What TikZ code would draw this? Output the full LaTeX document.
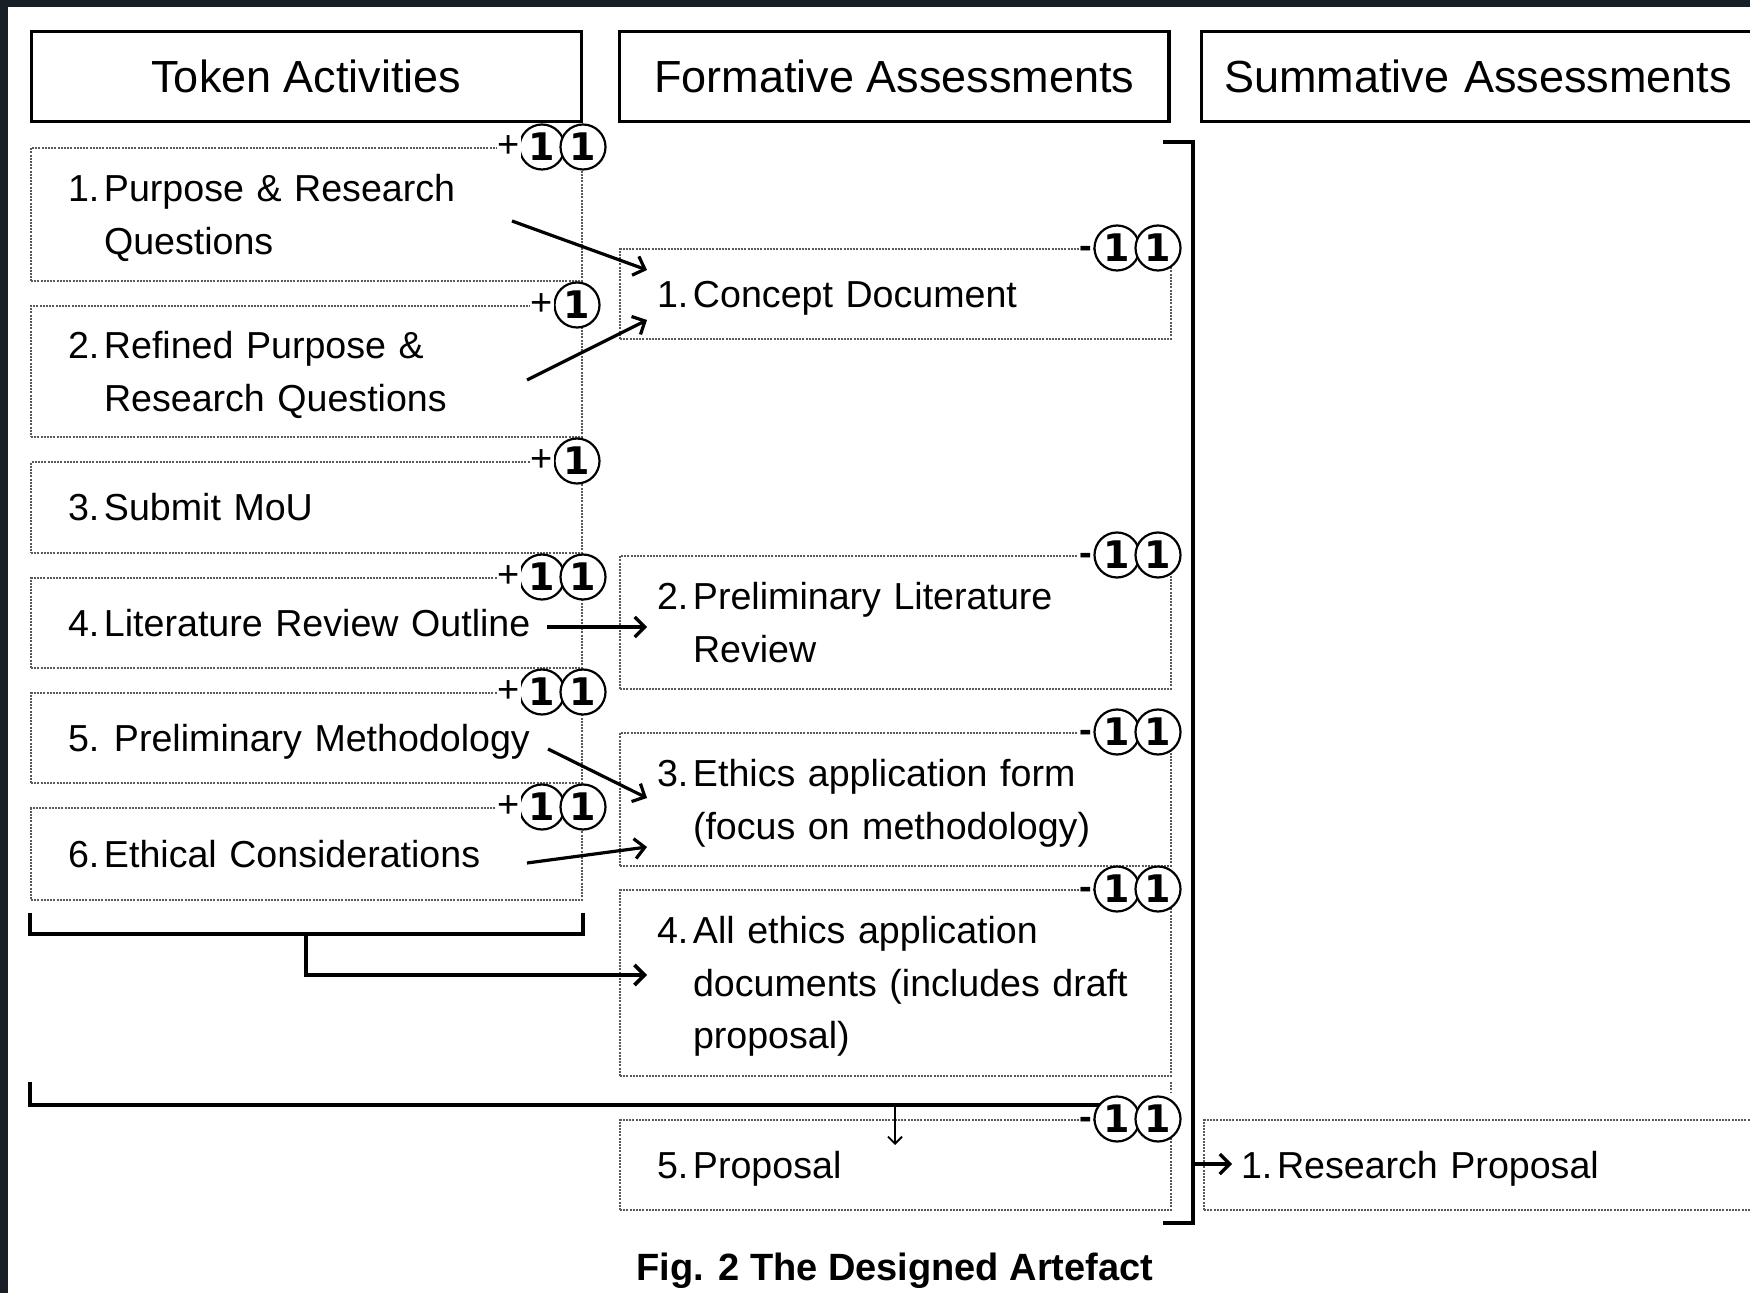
\documentclass[tikz,border=0pt]{standalone}
\usepackage{fontspec}
\usepackage{xcolor}
\usepackage{tikz}
\usetikzlibrary{positioning,arrows.meta}
\setmainfont{Liberation Sans}
\newfontfamily\digitfont{DejaVu Sans}
\definecolor{bgdark}{RGB}{24,31,38}
\newcommand{\numtext}[2]{\raisebox{0pt}[\dimexpr\height+2.8pt\relax][\depth]{\makebox[18pt][l]{#1}\begin{tabular}[t]{@{}l@{}}#2\end{tabular}}}

\begin{document}
\begin{tikzpicture}[x=0.5pt, y=-0.5pt, node distance=11.5pt,
    >={Straight Barb[length=5pt,width=10pt]},
    colhead/.style = {draw, line width=1.7pt, anchor=north west, minimum width=274.8pt, minimum height=45pt, font=\fontsize{22.5}{27}\selectfont},
    dots/.style = {draw=black!65, line width=1pt, dash pattern=on 1pt off 0.6pt},
    item/.style = {dots, anchor=north west, text width=238.5pt, inner xsep=18.5pt, inner ysep=0pt, align=left, font=\fontsize{18.8}{26.25}\selectfont},
    coin/.style = {draw, circle, fill=white, line width=1.1pt, minimum size=22.5pt, inner sep=0pt, font=\digitfont\bfseries\fontsize{19}{19}\selectfont},
    sign/.style = {fill=white, inner sep=0.5pt, font=\fontsize{19}{19}\selectfont},
    arr/.style = {->, line width=1.6pt},
    brk/.style = {line width=1.8pt}]
    \useasboundingbox (0,0) rectangle (1750,1293);
    \clip (0,0) rectangle (1750,1293);
    \fill[bgdark] (0,0) rectangle (1750,1293);
    \fill[white] (8,7) rectangle (1750,1293);

    \node[colhead] (ta) at (30,30) {Token Activities};
    \node[colhead] (fa) [right=17.3pt of ta] {Formative Assessments};
    \node[colhead, text width=266pt, inner xsep=11.5pt, align=left] (sa) [right=14.5pt of fa] {Summative Assessments};

    \node[item, minimum height=66.5pt] (t1) at (30,147) {\numtext{1.}{Purpose \& Research\\Questions}};
    \node[item, minimum height=65.5pt] (t2) [below=of t1] {\numtext{2.}{Refined Purpose \&\\Research Questions}};
    \node[item, minimum height=45.5pt] (t3) [below=of t2] {\numtext{3.}{Submit MoU}};
    \node[item, minimum height=45pt] (t4) [below=of t3] {\numtext{4.}{Literature Review Outline}};
    \node[item, minimum height=45pt] (t5) [below=of t4] {\numtext{5.}{\hspace{5pt}Preliminary Methodology}};
    \node[item, minimum height=46pt] (t6) [below=of t5] {\numtext{6.}{Ethical Considerations}};

    \node[item, minimum height=45pt] (f1) at (619,248) {\numtext{1.}{Concept Document}};
    \node[item, minimum height=66.5pt] (f2) [below=107.5pt of f1] {\numtext{2.}{Preliminary Literature\\Review}};
    \node[item, minimum height=66.5pt] (f3) [below=21pt of f2] {\numtext{3.}{Ethics application form\\(focus on methodology)}};
    \node[item, minimum height=93pt] (f4) [below=11pt of f3] {\numtext{4.}{All ethics application\\documents (includes draft\\proposal)}};
    \node[item, minimum height=45pt] (f5) [below=21pt of f4] {\numtext{5.}{Proposal}};
    \node[item, minimum height=45pt] (s1) [right=15.5pt of f5] {\numtext{1.}{Research Proposal}};

    \coordinate (t1o) at (512,221);
    \coordinate (t2o) at (527,380);
    \coordinate (t4o) at (547,627);
    \coordinate (t5o) at (548,749);
    \coordinate (t6o) at (527,863);
    \coordinate (f1a) at (647,270);
    \coordinate (f1b) at (647,320);
    \coordinate (f2a) at (647,627);
    \coordinate (f3a) at (647,798);
    \coordinate (f3b) at (647,847);
    \coordinate (f4a) at (647,975);
    \coordinate (f5a) at (895,1145);
    \coordinate (s1a) at (1232,1164);
    \coordinate (rb) at (1193,1164);
    \coordinate (j) at (895,1105);

    \draw[arr] (t1o) -- (f1a);
    \draw[arr] (t2o) -- (f1b);
    \draw[arr] (t4o) -- (f2a);
    \draw[arr] (t5o) -- (f3a);
    \draw[arr] (t6o) -- (f3b);

    \draw[brk] (30,913) -- (30,934) -- (583,934) -- (583,913);
    \draw[arr, brk] (306,934) |- (f4a);
    \draw[brk] (30,1082) -- (30,1105) -- (1100,1105);
    \draw[dots] (1171,1082) -- (1171,1093);
    \draw[line width=0.9pt, -{Straight Barb[length=3.5pt,width=7pt]}] (j) -- (f5a);
    \draw[brk] (1163,142) -- (1193,142) -- (1193,1223) -- (1163,1223);
    \draw[arr] (rb) -- (s1a);

    \foreach \b in {t1,t4,t5,t6} {
        \node[coin] (\b-c1) at ([xshift=-20.5pt]\b.north east) {1};
        \node[coin] (\b-c2) at (\b.north east) {1};
        \node[sign] (\b-s) at ([xshift=-37pt]\b.north east) {+};
    }
    \foreach \b in {t2,t3} {
        \node[coin] (\b-c1) at ([xshift=-3pt]\b.north east) {1};
        \node[sign] (\b-s) at ([xshift=-20.5pt]\b.north east) {+};
    }
    \foreach \b in {f1,f2,f3,f4,f5} {
        \node[coin] (\b-c1) at ([xshift=-27.5pt]\b.north east) {1};
        \node[coin] (\b-c2) at ([xshift=-7pt]\b.north east) {1};
        \node[sign, font=\bfseries\fontsize{19}{19}\selectfont] (\b-s) at ([xshift=-43pt,yshift=-2.2pt]\b.north east) {-};
    }

    \node[font=\bfseries\fontsize{19}{19}\selectfont] (cap) at (895,1271) {Fig. 2 The Designed Artefact};
\end{tikzpicture}
\end{document}
